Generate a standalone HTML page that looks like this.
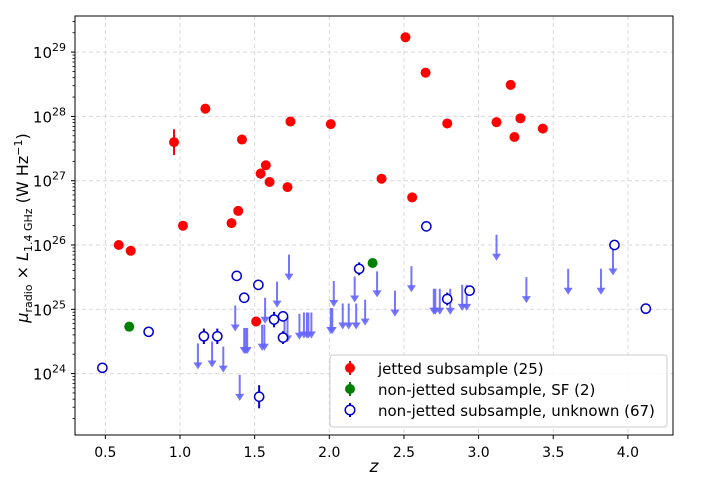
<!DOCTYPE html>
<html><head><meta charset="utf-8"><style>
html,body{margin:0;padding:0;background:#fff}
svg{display:block;font-family:"DejaVu Sans","Liberation Sans",sans-serif}
</style></head><body>
<svg id="chart" width="706" height="483">
<g id="grid"></g>
<g id="marks"></g>
<rect x="75" y="16" width="598" height="419" fill="none" stroke="#000" stroke-width="1"/>
<g id="axes"></g>
<text x="374" y="472" font-size="17" font-style="italic" text-anchor="middle">z</text>
<text transform="translate(28,228) rotate(-90)" font-size="16" text-anchor="middle"><tspan font-style="italic">μ</tspan><tspan font-size="11" dy="4">radio</tspan><tspan dy="-4"> × </tspan><tspan font-style="italic">L</tspan><tspan font-size="11" dy="4">1.4 GHz</tspan><tspan dy="-4"> (W Hz</tspan><tspan font-size="11" dy="-6">−1</tspan><tspan dy="6">)</tspan></text>
<g>
<rect x="330" y="355" width="337" height="72" rx="3" fill="#fff" fill-opacity="0.85" stroke="#ccc"/>
<g>
<line x1="350" y1="361" x2="350" y2="375" stroke="red" stroke-width="2"/><circle cx="350" cy="368" r="5" fill="red"/>
<text x="378" y="374" font-size="15">jetted subsample (25)</text></g>
<g>
<line x1="350" y1="382" x2="350" y2="396" stroke="green" stroke-width="2"/><circle cx="350" cy="389" r="5" fill="green"/>
<text x="378" y="395" font-size="15">non-jetted subsample, SF (2)</text></g>
<g>
<line x1="350" y1="403" x2="350" y2="417" stroke="#0000cd" stroke-width="2"/><circle cx="350" cy="410" r="4.8" fill="#fff" stroke="#0000cd" stroke-width="1.5"/>
<text x="378" y="416" font-size="15">non-jetted subsample, unknown (67)</text></g>
</g>
</svg>
<script>
const xTicks=[0.5,1.0,1.5,2.0,2.5,3.0,3.5,4.0];
const xTickLabels=["0.5","1.0","1.5","2.0","2.5","3.0","3.5","4.0"];
const yTicks=[24,25,26,27,28,29];
const jetZ=[0.59,0.67,0.96,1.02,1.17,1.345,1.39,1.415,1.51,1.54,1.575,1.60,1.72,1.74,2.01,2.35,2.51,2.555,2.645,2.79,3.12,3.215,3.24,3.28,3.43];
const jetL=[26.0,25.91,27.60,26.30,28.12,26.34,26.53,27.64,24.81,27.11,27.24,26.98,26.90,27.92,27.88,27.03,29.23,26.74,28.68,27.89,27.91,28.49,27.68,27.97,27.81];
const jetErr=[0,0,0.2,0,0,0,0.05,0.07,0,0.08,0,0,0,0.06,0,0,0,0,0,0,0,0.04,0,0,0];
const sfZ=[0.66,2.29];
const sfL=[24.73,25.72];
const sfErr=[0.07,0.03];
const unkZ=[0.48,0.79,1.16,1.25,1.38,1.43,1.525,1.53,1.63,1.69,1.69,2.20,2.65,2.79,2.94,3.91,4.12];
const unkL=[24.09,24.65,24.58,24.58,25.52,25.18,25.38,23.64,24.84,24.89,24.56,25.63,26.29,25.16,25.29,26.00,25.01];
const unkErr=[0,0,0.12,0.12,0,0,0,0.18,0.12,0.08,0.1,0.1,0,0.1,0.06,0,0.08];
const limZ=[1.12,1.215,1.29,1.37,1.40,1.43,1.44,1.45,1.55,1.565,1.57,1.65,1.73,1.70,1.72,1.80,1.83,1.85,1.86,1.88,2.01,2.02,2.03,2.09,2.13,2.18,2.17,2.24,2.32,2.44,2.55,2.70,2.71,2.74,2.81,2.89,2.92,3.12,3.32,3.60,3.82,3.90];
const limL=[24.47,24.50,24.42,25.06,23.98,24.71,24.71,24.71,24.76,24.76,25.18,25.43,25.85,24.89,24.89,24.93,24.95,24.95,24.95,24.95,25.02,25.02,25.44,25.09,25.09,25.09,25.51,25.15,25.59,25.29,25.67,25.32,25.32,25.32,25.32,25.38,25.38,26.16,25.50,25.63,25.63,25.93];
const NS='http://www.w3.org/2000/svg';
const X=z=>30.7+149.3*z;
const Y=l=>245-64.3*(l-26);
function mk(tag,attrs,parent){const e=document.createElementNS(NS,tag);for(const k in attrs)e.setAttribute(k,attrs[k]);parent.appendChild(e);return e;}
const grid=document.getElementById('grid'),axes=document.getElementById('axes'),marks=document.getElementById('marks');
xTicks.forEach((t,i)=>{const x=X(t);
 const g=mk('line',{x1:x,x2:x,y1:16,y2:435,stroke:'#d9d9d9','stroke-dasharray':'4,3'},grid);
 
 mk('line',{x1:x,x2:x,y1:435,y2:439,stroke:'#000'},axes);
 const tx=mk('text',{x:x,y:457,'font-size':14,'text-anchor':'middle'},axes);tx.textContent=xTickLabels[i];
 });
for(let d=23;d<=29;d++){for(let m=2;m<=9;m++){const y=Y(d+Math.log10(m));if(y<16||y>435)continue;mk('line',{x1:72.5,x2:75,y1:y,y2:y,stroke:'#000','stroke-width':0.8},axes);}}
yTicks.forEach(t=>{const y=Y(t);
 const g=mk('line',{x1:75,x2:673,y1:y,y2:y,stroke:'#d9d9d9','stroke-dasharray':'4,3'},grid);
 
 mk('line',{x1:71,x2:75,y1:y,y2:y,stroke:'#000'},axes);
 const tx=mk('text',{x:66,y:y+6,'font-size':15,'text-anchor':'end'},axes);
 
 const a=document.createElementNS(NS,'tspan');a.textContent='10';tx.appendChild(a);
 const b=document.createElementNS(NS,'tspan');b.setAttribute('font-size','11');b.setAttribute('dy','-7');b.textContent=String(t);tx.appendChild(b);});
limZ.forEach((z,i)=>{const x=X(z),y=Y(limL[i]);const g=mk('g',{},marks);
 
 mk('line',{x1:x,x2:x,y1:y,y2:y+22,stroke:'#6666ff','stroke-width':2,'stroke-opacity':0.9},g);
 mk('path',{d:`M${x-4.5},${y+19}L${x+4.5},${y+19}L${x},${y+26}Z`,fill:'#6666ff','fill-opacity':0.9},g);});
function pts(zs,ls,es,col,open,name){zs.forEach((z,i)=>{const x=X(z),y=Y(ls[i]);const g=mk('g',{},marks);
 
 if(es[i]>0)mk('line',{x1:x,x2:x,y1:Y(ls[i]+es[i]),y2:Y(ls[i]-es[i]),stroke:col,'stroke-width':2},g);
 if(open)mk('circle',{cx:x,cy:y,r:4.6,fill:'#fff',stroke:col,'stroke-width':1.5},g);
 else mk('circle',{cx:x,cy:y,r:5,fill:col},g);});}
pts(unkZ,unkL,unkErr,'#0000cd',true,'unknown-point');
pts(sfZ,sfL,sfErr,'green',false,'sf-point');
pts(jetZ,jetL,jetErr,'red',false,'jetted-point');
</script>
</body></html>
